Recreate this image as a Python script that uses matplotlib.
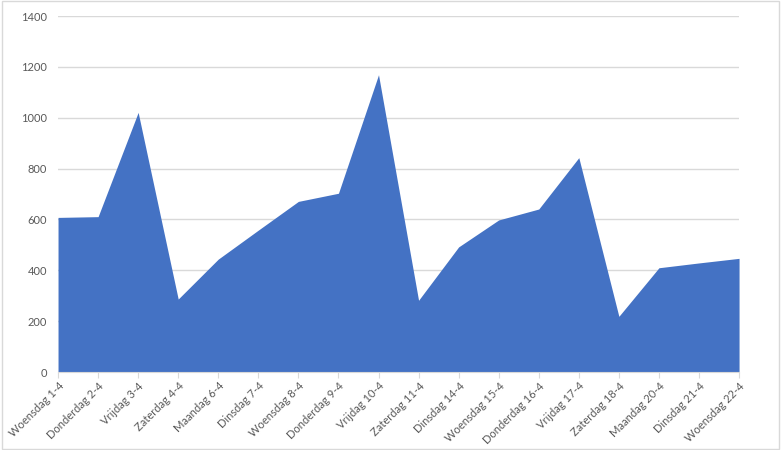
import matplotlib.pyplot as plt

# daily counts
dagen = ['Woensdag 1-4', 'Donderdag 2-4', 'Vrijdag 3-4', 'Zaterdag 4-4',
         'Maandag 6-4', 'Dinsdag 7-4', 'Woensdag 8-4', 'Donderdag 9-4',
         'Vrijdag 10-4', 'Zaterdag 11-4', 'Dinsdag 14-4', 'Woensdag 15-4',
         'Donderdag 16-4', 'Vrijdag 17-4', 'Zaterdag 18-4', 'Maandag 20-4',
         'Dinsdag 21-4', 'Woensdag 22-4']
aantal = [608, 611, 1021, 287, 444, 558, 671, 703, 1169, 282,
          492, 598, 641, 843, 219, 410, 429, 447]
y_ticks = [0, 200, 400, 600, 800, 1000, 1200, 1400]

plt.rcParams['font.family'] = ['Lato', 'DejaVu Sans']

fig = plt.figure(figsize=(7.81, 4.5), dpi=100)
ax = fig.add_axes([0.0743, 0.1733, 0.872, 0.7911])

x = list(range(len(dagen)))
ax.fill_between(x, aantal, 0, color='#4472C4', linewidth=0)

ax.set_xlim(0, len(dagen) - 1)
ax.set_ylim(0, 1400)
ax.set_yticks(y_ticks)
ax.set_yticklabels([str(v) for v in y_ticks])
ax.set_xticks(x)
ax.set_xticklabels(dagen, rotation=45, ha='right', rotation_mode='anchor')

ax.grid(axis='y', color='#D9D9D9', linewidth=1)
ax.set_axisbelow(True)
for side in ['top', 'right', 'left']:
    ax.spines[side].set_visible(False)
ax.spines['bottom'].set_color('#D9D9D9')
ax.tick_params(axis='y', length=0, labelsize=8, colors='#595959', pad=8)
ax.tick_params(axis='x', length=4, color='#D9D9D9', labelsize=8,
               labelcolor='#595959', pad=2)

# light border around the whole chart
fig.patches.append(plt.Rectangle((0.002, 0.003), 0.996, 0.994,
                                 transform=fig.transFigure, fill=False,
                                 edgecolor='#D9D9D9', linewidth=1))

fig.savefig('out.png', dpi=100)
